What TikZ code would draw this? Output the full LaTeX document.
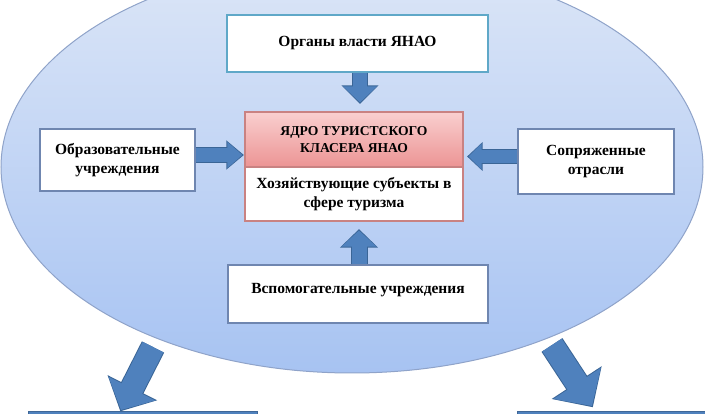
\documentclass[tikz,border=0pt]{standalone}
\usepackage{fontspec}
\setmainfont{Liberation Serif}
\usetikzlibrary{arrows.meta,calc}
\definecolor{arrblue}{HTML}{4F81BD}
\definecolor{arrdark}{HTML}{3A6596}
\definecolor{ellTop}{HTML}{DCE6F7}
\definecolor{ellBot}{HTML}{A7C3F2}
\definecolor{ellLine}{HTML}{8FA3C9}
\definecolor{boxLine}{HTML}{6F86B0}
\definecolor{tealLine}{HTML}{5FA8C8}
\definecolor{pinkTop}{HTML}{F9CFCF}
\definecolor{pinkBot}{HTML}{EC9494}
\definecolor{redLine}{HTML}{C98282}
\begin{document}
\begin{tikzpicture}[x=1pt,y=-1pt,
  box/.style={draw=boxLine,line width=1.2pt,fill=white,align=center,inner sep=2pt,
    font=\fontsize{15.5}{19.5}\selectfont\bfseries},
  blockarr/.style={draw=arrblue,line width=#1},
  bigbox/.style={fill=arrblue,draw=arrblue!80!black,line width=0.8pt}
]
\useasboundingbox (0,0) rectangle (705,414);
\clip (0,0) rectangle (705,414);
% ellipse
\path[top color=ellTop,bottom color=ellBot,draw=ellLine,line width=1pt]
  (352,167) ellipse [x radius=351, y radius=206];
% nodes
\node[box,draw=tealLine,minimum width=261pt,minimum height=57pt] (top) at (357.5,43.5) {Органы власти ЯНАО};
\node[draw=redLine,line width=1.2pt,top color=pinkTop,bottom color=pinkBot,align=center,
  minimum width=218pt,minimum height=55pt,inner sep=1pt,
  font=\fontsize{13.6}{17}\selectfont\bfseries] (coreTop) at (354,139.5) {ЯДРО ТУРИСТСКОГО\\КЛАСЕРА ЯНАО};
\node[box,draw=redLine,minimum width=218pt,minimum height=54pt,inner sep=1pt] (coreBot) at (354,194)
  {Хозяйствующие субъекты в\\сфере туризма};
\node[box,minimum width=155pt,minimum height=62pt] (left) at (117.5,160) {Образовательные\\учреждения};
\node[box,minimum width=156pt,minimum height=65pt] (right) at (596,161.5) {Сопряженные\\отрасли};
\node[box,minimum width=260pt,minimum height=58pt] (bottom) at (358,294) {\raisebox{12pt}{Вспомогательные учреждения}};
\node[bigbox,minimum width=229pt,minimum height=20pt,inner sep=0pt] (bl) at (142.5,421) {};
\node[bigbox,minimum width=200pt,minimum height=20pt,inner sep=0pt] (br) at (617,421) {};
% arrows
\draw[blockarr=14pt,-{Triangle[length=16pt,width=33pt]},shorten >=9pt,
  preaction={draw=arrdark,line width=16pt,-{Triangle[length=18.5pt,width=36pt]},shorten >=7.5pt}]
  ([xshift=2.5pt]top.south) -- ([xshift=2.5pt]top.south |- coreTop.north);
\draw[blockarr=15pt,-{Triangle[length=16pt,width=34pt]},shorten >=9pt,
  preaction={draw=arrdark,line width=17pt,-{Triangle[length=18.5pt,width=37pt]},shorten >=7.5pt}]
  ([xshift=1pt]bottom.north) -- ([xshift=1pt]bottom.north |- coreBot.south);
\draw[blockarr=14pt,-{Triangle[length=15pt,width=25pt]},shorten >=2pt,
  preaction={draw=arrdark,line width=16pt,-{Triangle[length=17.5pt,width=28pt]},shorten >=0.5pt}]
  ([yshift=5pt]left.east) -- ([yshift=5pt]left.east -| coreTop.west);
\draw[blockarr=13pt,-{Triangle[length=13pt,width=25pt]},shorten >=5pt,
  preaction={draw=arrdark,line width=15pt,-{Triangle[length=15.5pt,width=28pt]},shorten >=3.5pt}]
  ([yshift=5pt]right.west) -- ([yshift=5pt]right.west -| coreTop.east);
\coordinate (dls) at (153,347);
\coordinate (dlt) at (121,410);
\coordinate (drs) at (552,345);
\coordinate (drt) at (592,406);
\draw[blockarr=23pt,-{Triangle[length=24pt,width=51pt]},
  preaction={draw=arrdark,line width=25pt,-{Triangle[length=26.5pt,width=54pt]},shorten >=-1.5pt}]
  (dls) -- (dlt);
\draw[blockarr=23pt,-{Triangle[length=27pt,width=55pt]},
  preaction={draw=arrdark,line width=25pt,-{Triangle[length=29.5pt,width=58pt]},shorten >=-1.5pt}]
  (drs) -- (drt);
\end{tikzpicture}
\end{document}
